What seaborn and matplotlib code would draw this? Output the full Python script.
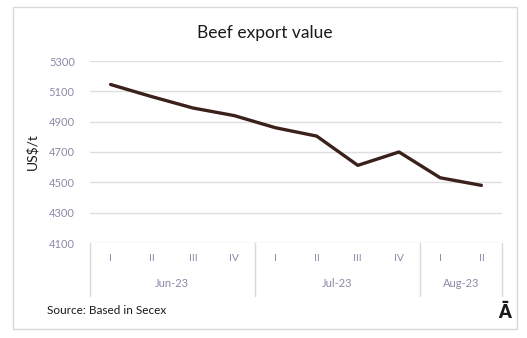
import matplotlib
matplotlib.use("Agg")
import matplotlib.pyplot as plt
import matplotlib.transforms as mtransforms
from matplotlib.patches import Rectangle
import seaborn as sns
import pandas as pd

# ---- data ----
weeks = ["I", "II", "III", "IV", "I", "II", "III", "IV", "I", "II"]
months = ["Jun-23", "Jul-23", "Aug-23"]
month_sizes = [4, 4, 2]
values = [5145, 5065, 4990, 4940, 4860, 4805, 4612, 4700, 4530, 4480]
y_ticks = [4100, 4300, 4500, 4700, 4900, 5100, 5300]

sns.set_theme(style="white")
plt.rcParams["font.family"] = ["Lato", "DejaVu Sans"]

W, H = 527, 338
fig = plt.figure(figsize=(W / 100, H / 100), dpi=100)
fig.patch.set_facecolor("white")

# outer border
fig.patches.append(Rectangle((13 / W, 1 - 329 / H), (517 - 13) / W, (329 - 7) / H,
                             transform=fig.transFigure, fill=False,
                             edgecolor="#d9d9d9", linewidth=1.0))

ax_l, ax_r, ax_t, ax_b = 90, 502, 61, 243
ax = fig.add_axes([ax_l / W, 1 - ax_b / H, (ax_r - ax_l) / W, (ax_b - ax_t) / H])

df = pd.DataFrame({"pos": list(range(len(values))), "value": values})
sns.lineplot(data=df, x="pos", y="value", ax=ax, color="#3b211b", linewidth=2.4)

ax.set_xlim(-0.5, len(values) - 0.5)
ax.set_ylim(y_ticks[0], y_ticks[-1])
ax.set_yticks(y_ticks)
ax.set_yticklabels([str(v) for v in y_ticks], color="#8a8aa8", fontsize=8)
ax.tick_params(axis="y", length=0, pad=11)
ax.set_xticks([])
ax.set_xlabel("")
ax.set_ylabel("US$/t", fontsize=10, color="#1a1a1a")
ax.yaxis.set_label_coords((38 - ax_l) / (ax_r - ax_l), 0.5)
for s in ax.spines.values():
    s.set_visible(False)
ax.grid(axis="y", color="#dedede", linewidth=1.0)
ax.set_axisbelow(True)

trans = mtransforms.blended_transform_factory(ax.transData, ax.transAxes)
# week labels
for i, w in enumerate(weeks):
    ax.text(i, -0.085, w, transform=trans, ha="center", va="center",
            fontsize=7.5, color="#8a8aa8")
# month labels and separators
start = 0
bounds = [-0.5]
for m, n in zip(months, month_sizes):
    center = start + (n - 1) / 2
    ax.text(center, -0.22, m, transform=trans, ha="center", va="center",
            fontsize=8, color="#8a8aa8")
    start += n
    bounds.append(start - 0.5)
for b in bounds:
    ax.plot([b, b], [0, -0.29], transform=trans, color="#d9d9d9",
            linewidth=1.0, clip_on=False)

fig.text(265 / W, 1 - 33 / H, "Beef export value", ha="center", va="center",
         fontsize=12.5, color="#1a1a1a")
fig.text(47 / W, 1 - 310 / H, "Source: Based in Secex", ha="left", va="center",
         fontsize=8.5, color="#1a1a1a")
fig.text(505 / W, 1 - 312 / H, "Ā", ha="center", va="center",
         fontsize=13, fontweight="heavy", color="#1a1a1a")

fig.savefig("out.png", dpi=100, facecolor="white")
